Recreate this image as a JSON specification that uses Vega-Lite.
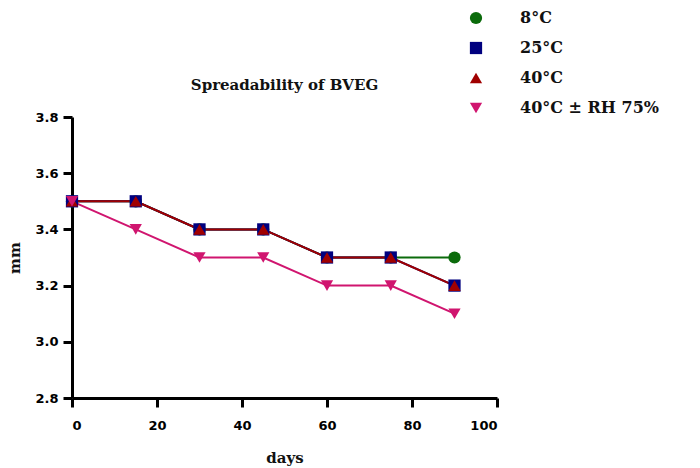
{
  "$schema": "https://vega.github.io/schema/vega-lite/v6.json",
  "width": 425,
  "height": 281,
  "autosize": {"type": "none"},
  "padding": {"left": 72, "top": 117, "right": 203, "bottom": 70},
  "background": "white",
  "title": {
    "text": "Spreadability of BVEG",
    "font": "DejaVu Serif",
    "fontSize": 15,
    "fontWeight": "bold",
    "color": "#111",
    "anchor": "middle",
    "frame": "group",
    "offset": -83
  },
  "config": {
    "view": {"stroke": null},
    "axis": {
      "grid": false,
      "domainColor": "black",
      "domainWidth": 3,
      "tickColor": "black",
      "tickWidth": 3,
      "tickSize": 9,
      "labelFont": "DejaVu Sans",
      "labelFontSize": 13,
      "labelFontWeight": "bold",
      "labelColor": "black",
      "titleFont": "DejaVu Serif",
      "titleFontSize": 15,
      "titleFontWeight": "bold",
      "titleColor": "#111"
    }
  },
  "data": {
    "values": [
      {"series": "8°C", "days": 0, "mm": 3.5},
      {"series": "8°C", "days": 15, "mm": 3.5},
      {"series": "8°C", "days": 30, "mm": 3.4},
      {"series": "8°C", "days": 45, "mm": 3.4},
      {"series": "8°C", "days": 60, "mm": 3.3},
      {"series": "8°C", "days": 75, "mm": 3.3},
      {"series": "8°C", "days": 90, "mm": 3.3},
      {"series": "25°C", "days": 0, "mm": 3.5},
      {"series": "25°C", "days": 15, "mm": 3.5},
      {"series": "25°C", "days": 30, "mm": 3.4},
      {"series": "25°C", "days": 45, "mm": 3.4},
      {"series": "25°C", "days": 60, "mm": 3.3},
      {"series": "25°C", "days": 75, "mm": 3.3},
      {"series": "25°C", "days": 90, "mm": 3.2},
      {"series": "40°C", "days": 0, "mm": 3.5},
      {"series": "40°C", "days": 15, "mm": 3.5},
      {"series": "40°C", "days": 30, "mm": 3.4},
      {"series": "40°C", "days": 45, "mm": 3.4},
      {"series": "40°C", "days": 60, "mm": 3.3},
      {"series": "40°C", "days": 75, "mm": 3.3},
      {"series": "40°C", "days": 90, "mm": 3.2},
      {"series": "40°C ± RH 75%", "days": 0, "mm": 3.5},
      {"series": "40°C ± RH 75%", "days": 15, "mm": 3.4},
      {"series": "40°C ± RH 75%", "days": 30, "mm": 3.3},
      {"series": "40°C ± RH 75%", "days": 45, "mm": 3.3},
      {"series": "40°C ± RH 75%", "days": 60, "mm": 3.2},
      {"series": "40°C ± RH 75%", "days": 75, "mm": 3.2},
      {"series": "40°C ± RH 75%", "days": 90, "mm": 3.1}
    ]
  },
  "encoding": {
    "x": {
      "field": "days",
      "type": "quantitative",
      "scale": {"domain": [0, 100], "nice": false},
      "axis": {"values": [0, 20, 40, 60, 80, 100], "title": "days", "labelPadding": 12, "titlePadding": 18}
    },
    "y": {
      "field": "mm",
      "type": "quantitative",
      "scale": {"domain": [2.8, 3.8], "nice": false, "zero": false},
      "axis": {"values": [2.8, 3.0, 3.2, 3.4, 3.6, 3.8], "format": ".1f", "title": "mm", "labelPadding": 5, "titlePadding": 12}
    },
    "color": {
      "field": "series",
      "type": "nominal",
      "sort": ["8°C", "25°C", "40°C", "40°C ± RH 75%"],
      "scale": {
        "domain": ["8°C", "25°C", "40°C", "40°C ± RH 75%"],
        "range": ["#0b6b0b", "#00007f", "#a00000", "#d0156f"]
      },
      "legend": {
        "title": null,
        "orient": "none",
        "legendX": 396,
        "legendY": -107,
        "padding": 0,
        "symbolSize": 150,
        "symbolStrokeWidth": 0,
        "labelFont": "DejaVu Serif",
        "labelFontSize": 16,
        "labelFontWeight": "bold",
        "labelColor": "#111",
        "labelOffset": 36,
        "rowPadding": 14,
        "labelLimit": 300
      }
    }
  },
  "layer": [
    {
      "mark": {"type": "line", "strokeWidth": 2},
      "encoding": {"detail": {"field": "series"}}
    },
    {
      "mark": {"type": "point", "filled": true, "opacity": 1, "size": 150},
      "encoding": {
        "shape": {
          "field": "series",
          "type": "nominal",
          "sort": ["8°C", "25°C", "40°C", "40°C ± RH 75%"],
          "scale": {
            "domain": ["8°C", "25°C", "40°C", "40°C ± RH 75%"],
            "range": ["circle", "square", "triangle-up", "triangle-down"]
          }
        }
      }
    }
  ]
}
